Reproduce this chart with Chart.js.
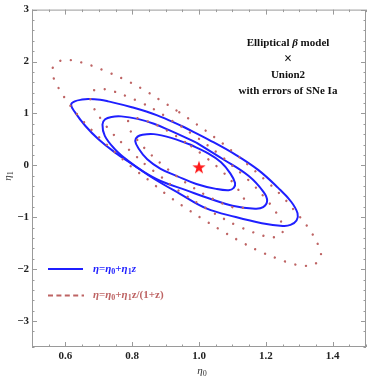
<!DOCTYPE html>
<html>
<head>
<meta charset="utf-8">
<script src="https://cdn.jsdelivr.net/npm/chart.js@4.4.0/dist/chart.umd.min.js"></script>
<style>
  html, body { margin: 0; padding: 0; background: #fff; }
</style>
</head>
<body>
<canvas id="chart" width="374" height="379"></canvas>
<script>
// axis ranges and labelled ticks
const xMin = 0.5, xMax = 1.5, yMin = -3.5, yMax = 3;
const xLabels = [0.6, 0.8, 1.0, 1.2, 1.4];
const yLabels = [-3, -2, -1, 0, 1, 2, 3];

// best fit point
const bestFit = [[1.0, -0.036]];

// eta = eta0 + eta1 z  (1, 2, 3 sigma contours)
const blueInner = [
  [0.809, 0.471], [0.816, 0.553], [0.831, 0.591], [0.865, 0.601], [0.914, 0.534],
  [0.973, 0.401], [1.022, 0.249], [1.066, 0.059], [1.095, -0.169], [1.108, -0.340],
  [1.104, -0.435], [1.089, -0.479], [1.051, -0.454], [0.992, -0.359], [0.934, -0.207],
  [0.885, -0.068], [0.845, 0.116], [0.819, 0.325]
];
const blueMid = [
  [0.711, 0.787], [0.719, 0.886], [0.738, 0.933], [0.767, 0.943], [0.816, 0.895],
  [0.865, 0.800], [0.914, 0.667], [0.992, 0.439], [1.071, 0.122], [1.149, -0.207],
  [1.193, -0.511], [1.204, -0.682], [1.192, -0.805], [1.168, -0.835], [1.100, -0.777],
  [1.031, -0.639], [0.963, -0.483], [0.885, -0.302], [0.836, -0.131], [0.787, 0.091],
  [0.748, 0.312], [0.718, 0.567]
];
const blueOuter = [
  [0.617, 1.167], [0.628, 1.232], [0.650, 1.266], [0.669, 1.276], [0.704, 1.262],
  [0.728, 1.232], [0.796, 1.124], [0.875, 0.962], [0.953, 0.743], [1.031, 0.487],
  [1.110, 0.202], [1.178, -0.093], [1.237, -0.435], [1.276, -0.702], [1.295, -0.924],
  [1.292, -1.063], [1.274, -1.148], [1.251, -1.167], [1.188, -1.114], [1.110, -0.996],
  [1.022, -0.829], [0.943, -0.549], [0.865, -0.259], [0.806, -0.004], [0.748, 0.249],
  [0.699, 0.502], [0.660, 0.757], [0.630, 1.010]
];

// eta = eta0 + eta1 z/(1+z)
const redInner = [
  [0.788, 0.862], [0.799, 0.913], [0.812, 0.913], [0.840, 0.862], [0.880, 0.754],
  [0.930, 0.569], [0.977, 0.369], [1.022, 0.146], [1.066, -0.096], [1.105, -0.362],
  [1.137, -0.668], [1.140, -0.755], [1.130, -0.822], [1.116, -0.828], [1.083, -0.769],
  [1.032, -0.615], [0.982, -0.426], [0.935, -0.217], [0.891, 0.007], [0.848, 0.257],
  [0.810, 0.531], [0.793, 0.690]
];
const redMid = [
  [0.676, 1.386], [0.694, 1.468], [0.716, 1.468], [0.740, 1.432], [0.762, 1.386],
  [0.783, 1.331], [0.827, 1.208], [0.869, 1.067], [0.908, 0.906], [0.947, 0.748],
  [0.985, 0.578], [1.024, 0.396], [1.060, 0.214], [1.097, 0.008], [1.131, -0.183],
  [1.165, -0.394], [1.196, -0.617], [1.226, -0.859], [1.248, -1.119], [1.252, -1.260],
  [1.236, -1.370], [1.213, -1.380], [1.190, -1.352], [1.159, -1.283], [1.116, -1.169],
  [1.075, -1.032], [1.035, -0.882], [0.995, -0.722], [0.954, -0.553], [0.917, -0.380],
  [0.882, -0.197], [0.845, -0.015], [0.809, 0.190], [0.775, 0.396], [0.741, 0.615],
  [0.712, 0.844], [0.685, 1.103], [0.676, 1.240]
];
const redOuter = [
  [0.564, 1.909], [0.589, 2.023], [0.620, 2.023], [0.653, 1.973], [0.684, 1.909],
  [0.713, 1.833], [0.774, 1.662], [0.832, 1.466], [0.887, 1.243], [0.941, 1.023],
  [0.994, 0.787], [1.048, 0.534], [1.098, 0.281], [1.149, -0.004], [1.196, -0.270],
  [1.244, -0.563], [1.286, -0.873], [1.328, -1.209], [1.359, -1.570], [1.364, -1.766],
  [1.342, -1.918], [1.310, -1.932], [1.278, -1.894], [1.235, -1.798], [1.176, -1.639],
  [1.119, -1.449], [1.063, -1.240], [1.007, -1.019], [0.951, -0.783], [0.899, -0.544],
  [0.850, -0.289], [0.799, -0.036], [0.749, 0.249], [0.702, 0.534], [0.655, 0.838],
  [0.614, 1.156], [0.577, 1.517], [0.564, 1.707]
];

const serif = "'Liberation Serif', 'Times New Roman', serif";
const blue = "#1f1fff";
const red = "rgb(190, 100, 100)";

// close a contour, starting on a flat stretch so the joint is not seen
function ring(pts, k) {
  return pts.slice(k).concat(pts.slice(0, k + 1)).map(p => ({x: p[0], y: p[1]}));
}

function contour(pts, k, color, dotted) {
  return {
    data: ring(pts, k),
    showLine: true,
    borderColor: color,
    borderWidth: dotted ? 2.4 : 2,
    borderDash: dotted ? [0.01, 10.7] : [],
    borderCapStyle: dotted ? "round" : "butt",
    tension: 0.4,
    pointRadius: 0,
    fill: false
  };
}

// filled five point star for the best fit
const star = document.createElement("canvas");
star.width = 16; star.height = 16;
(function () {
  const c = star.getContext("2d");
  c.beginPath();
  for (let i = 0; i < 10; i++) {
    const r = i % 2 ? 2.7 : 7;
    const a = -Math.PI / 2 + i * Math.PI / 5;
    c.lineTo(8 + r * Math.cos(a), 8.5 + r * Math.sin(a));
  }
  c.closePath();
  c.fillStyle = "#ff1a1a";
  c.fill();
})();

function near(list, v) {
  return list.some(l => Math.abs(l - v) < 1e-6);
}

function drawRuns(ctx, runs, x, y, align) {
  let w = 0;
  runs.forEach(r => { ctx.font = r.font; r.w = ctx.measureText(r.t).width; w += r.w; });
  let cx = align === "center" ? x - w / 2 : x;
  runs.forEach(r => {
    ctx.font = r.font;
    ctx.fillText(r.t, cx, y + (r.dy || 0));
    cx += r.w;
  });
}

function eta(sub, size, bold) {
  const b = bold ? "bold " : "";
  const runs = [{t: "η", font: "italic " + b + size + "px " + serif}];
  if (sub) runs.push({t: sub, font: b + Math.round(size * 0.72) + "px " + serif, dy: 3});
  return runs;
}

const extras = {
  id: "extras",
  afterDraw(chart) {
    const ctx = chart.ctx, a = chart.chartArea;
    const xs = chart.scales.x, ys = chart.scales.y;
    ctx.save();

    // frame with inward ticks
    ctx.strokeStyle = "#9a9a9a";
    ctx.lineWidth = 1;
    ctx.strokeRect(a.left + 0.5, a.top + 0.5, a.right - a.left - 1, a.bottom - a.top - 1);
    ctx.beginPath();
    xs.ticks.forEach(t => {
      const p = Math.round(xs.getPixelForValue(t.value)) + 0.5;
      const L = near(xLabels, t.value) ? 5 : 2.5;
      ctx.moveTo(p, a.bottom); ctx.lineTo(p, a.bottom - L);
      ctx.moveTo(p, a.top); ctx.lineTo(p, a.top + L);
    });
    ys.ticks.forEach(t => {
      const p = Math.round(ys.getPixelForValue(t.value)) + 0.5;
      const L = near(yLabels, t.value) ? 5 : 2.5;
      ctx.moveTo(a.left, p); ctx.lineTo(a.left + L, p);
      ctx.moveTo(a.right, p); ctx.lineTo(a.right - L, p);
    });
    ctx.stroke();

    // axis titles
    ctx.fillStyle = "#333";
    ctx.textBaseline = "middle";
    drawRuns(ctx, eta("0", 11, false), 202, 371, "center");
    ctx.save();
    ctx.translate(8, 176);
    ctx.rotate(-Math.PI / 2);
    drawRuns(ctx, eta("1", 11, false), 0, 0, "center");
    ctx.restore();

    // annotation
    ctx.fillStyle = "#111";
    const bf = "bold 11px " + serif;
    drawRuns(ctx, [{t: "Elliptical ", font: bf}, {t: "β", font: "bold italic 11px " + serif}, {t: " model", font: bf}], 288, 43, "center");
    drawRuns(ctx, [{t: "×", font: "bold 14px " + serif}], 288, 59, "center");
    drawRuns(ctx, [{t: "Union2", font: bf}], 288, 75, "center");
    drawRuns(ctx, [{t: "with errors of SNe Ia", font: bf}], 288, 91, "center");

    // legend
    ctx.lineWidth = 2;
    ctx.strokeStyle = blue;
    ctx.beginPath(); ctx.moveTo(48, 269); ctx.lineTo(83, 269); ctx.stroke();
    ctx.strokeStyle = red;
    ctx.setLineDash([5, 3.4]);
    ctx.beginPath(); ctx.moveTo(48, 295.5); ctx.lineTo(84, 295.5); ctx.stroke();
    ctx.setLineDash([]);

    const it = "italic bold 11px " + serif, nf = "bold 11px " + serif;
    ctx.fillStyle = blue;
    drawRuns(ctx, [].concat(eta("", 11, true), [{t: "=", font: nf}], eta("0", 11, true),
      [{t: "+", font: nf}], eta("1", 11, true), [{t: "z", font: it}]), 93, 269, "left");
    ctx.fillStyle = red;
    drawRuns(ctx, [].concat(eta("", 11, true), [{t: "=", font: nf}], eta("0", 11, true),
      [{t: "+", font: nf}], eta("1", 11, true), [{t: "z/(1+z)", font: nf}]), 93, 295, "left");

    ctx.restore();
  }
};

new Chart(document.getElementById("chart"), {
  type: "scatter",
  data: {
    datasets: [
      contour(redOuter, 9, red, true),
      contour(redMid, 9, red, true),
      contour(redInner, 6, red, true),
      contour(blueOuter, 8, blue, false),
      contour(blueMid, 7, blue, false),
      contour(blueInner, 5, blue, false),
      {
        data: bestFit.map(p => ({x: p[0], y: p[1]})),
        pointStyle: star,
        pointRadius: 7,
        showLine: false
      }
    ]
  },
  options: {
    responsive: false,
    animation: false,
    devicePixelRatio: 1,
    layout: { padding: { top: 5, right: 1, left: 0, bottom: 0 } },
    plugins: { legend: { display: false }, tooltip: { enabled: false } },
    scales: {
      x: {
        type: "linear", min: xMin, max: xMax,
        grid: { display: false, drawTicks: false },
        border: { display: false },
        ticks: {
          stepSize: 0.05, autoSkip: false, maxRotation: 0, padding: 3,
          color: "#222", font: { family: serif, size: 11, weight: "bold" },
          callback: v => near(xLabels, v) ? Number(v).toFixed(1) : ""
        },
        afterFit: s => { s.height = 32; }
      },
      y: {
        type: "linear", min: yMin, max: yMax,
        grid: { display: false, drawTicks: false },
        border: { display: false },
        ticks: {
          stepSize: 0.2, autoSkip: false, padding: 3,
          color: "#222", font: { family: serif, size: 11, weight: "bold" },
          callback: v => near(yLabels, v) ? String(Math.round(v)).replace("-", "\u2212") : ""
        },
        afterFit: s => { s.width = 32; }
      }
    }
  },
  plugins: [extras]
});
</script>
</body>
</html>
